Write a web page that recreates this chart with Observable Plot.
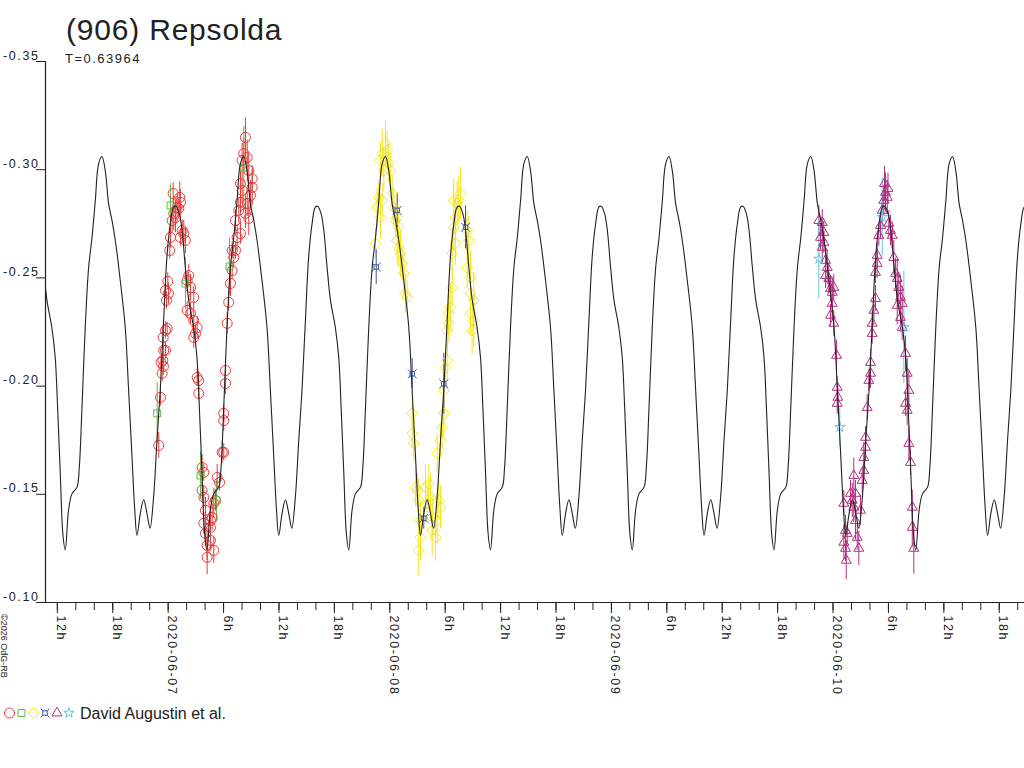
<!DOCTYPE html>
<html>
<head>
<meta charset="utf-8">
<script src="https://cdn.jsdelivr.net/npm/d3@7"></script>
<script src="https://cdn.jsdelivr.net/npm/@observablehq/plot@0.6"></script>
<style>
  html, body { margin: 0; padding: 0; background: #fff; }
  #wrap { position: relative; width: 1024px; height: 768px; overflow: hidden; font-family: "Liberation Sans", Arial, sans-serif; }
  #chart svg text { letter-spacing: 1.6px; }
  #overlay { position: absolute; left: 0; top: 0; pointer-events: none; }
</style>
</head>
<body>
<div id="wrap"><div id="chart"></div></div>
<script>
// ---------- texts ----------
const titleText = "(906) Repsolda";
const periodText = "T=0.63964";
const observerText = "David Augustin et al.";
const copyrightText = "©2026 OdG-RB";

// ---------- scales ----------
const xDomain = ["2020-06-06T10:43Z", "2020-06-10T20:44Z"];
const yTop = -0.35, yBottom = -0.10;
const yTicks = [-0.35, -0.30, -0.25, -0.20, -0.15, -0.10];
const refTime = "2020-06-07T00:00Z";   // data times are hours after this

// ---------- model lightcurve (one period) ----------
const periodDays = 0.63964;
const modelEpochHours = 34.91;         // sharp minimum (phase 0)
const modelPhase = [0, 0.023, 0.047, 0.083, 0.099, 0.118, 0.141, 0.165, 0.189, 0.212, 0.235, 0.259,
  0.282, 0.306, 0.330, 0.353, 0.388, 0.423, 0.447, 0.471, 0.489, 0.506, 0.529, 0.553, 0.577, 0.598,
  0.623, 0.647, 0.670, 0.693, 0.717, 0.741, 0.764, 0.781, 0.805, 0.824, 0.847, 0.871, 0.905, 0.929,
  0.946, 0.965, 0.983];
const modelMag = [-0.1243, -0.1425, -0.1502, -0.1533, -0.1625, -0.1902, -0.2272, -0.2549, -0.2688, -0.2858, -0.3027, -0.3061,
  -0.2996, -0.2842, -0.2765, -0.2673, -0.2488, -0.2272, -0.1980, -0.1671, -0.1440, -0.1310, -0.1410, -0.1475, -0.1410, -0.1343,
  -0.1486, -0.1749, -0.1980, -0.2288, -0.2596, -0.2750, -0.2827, -0.2831, -0.2796, -0.2719, -0.2549, -0.2396, -0.2272, -0.2134,
  -0.1902, -0.1595, -0.1318];

// ---------- observations (hours after refTime, magnitude, error) ----------
const redHours = [-1.02,-0.83,-0.65,-0.78,-0.51,-0.58,-0.48,-0.29,-0.54,-0.29,
  -0.11,-0.18,0.03,-0.29,-0.04,0.17,0.25,0.43,0.61,0.79,
  0.97,0.54,1.26,1.33,1.15,1.52,1.69,1.33,1.87,2.23,
  2.06,2.42,2.77,2.06,2.42,2.77,3.14,2.96,2.77,3.14,
  3.31,3.31,3.68,3.86,3.68,3.86,4.04,3.86,4.04,4.58,
  4.22,4.58,4.22,4.94,4.58,4.77,4.94,5.12,5.31,5.56,
  5.85,6.02,6.02,6.02,6.21,6.21,6.39,6.56,6.75,6.93,
  7.10,7.29,6.93,7.47,7.83,7.29,7.65,7.83,8.01,7.83,
  8.01,8.19,8.37,8.56,8.73,9.10,9.10,8.91,8.56,8.73,8.37];
const redMag = [-0.1726,-0.1948,-0.2059,-0.2109,-0.2091,-0.2119,-0.2165,-0.2165,-0.2225,-0.2257,
  -0.2266,-0.2396,-0.2428,-0.2442,-0.2484,-0.2627,-0.2687,-0.2765,-0.2798,-0.2779,
  -0.2826,-0.2890,-0.2872,-0.2849,-0.2821,-0.2719,-0.2705,-0.2687,-0.2673,-0.2511,
  -0.2488,-0.2456,-0.2410,-0.2350,-0.2336,-0.2303,-0.2271,-0.2243,-0.2225,-0.2040,
  -0.2026,-0.1966,-0.1624,-0.1601,-0.1518,-0.1486,-0.1426,-0.1366,-0.1319,-0.1347,
  -0.1264,-0.1287,-0.1209,-0.1241,-0.1379,-0.1393,-0.1458,-0.1472,-0.1578,-0.1555,
  -0.1694,-0.1694,-0.1841,-0.1874,-0.2012,-0.2072,-0.2290,-0.2387,-0.2474,-0.2534,
  -0.2594,-0.2627,-0.2627,-0.2687,-0.2705,-0.2765,-0.2812,-0.2849,-0.2904,-0.2936,
  -0.3043,-0.3075,-0.3149,-0.3056,-0.2996,-0.2959,-0.2918,-0.2881,-0.2844,-0.2775,-0.2798];
const redErr = [0.006,0.004,0.004,0.003,0.004,0.003,0.005,0.004,0.003,0.004,
  0.003,0.004,0.005,0.003,0.004,0.004,0.005,0.006,0.008,0.007,
  0.006,0.005,0.007,0.006,0.005,0.005,0.006,0.004,0.006,0.005,
  0.004,0.006,0.005,0.004,0.005,0.006,0.005,0.004,0.005,0.004,
  0.004,0.003,0.006,0.004,0.005,0.005,0.006,0.005,0.006,0.005,
  0.007,0.005,0.008,0.006,0.005,0.006,0.007,0.005,0.006,0.004,
  0.005,0.004,0.005,0.004,0.005,0.006,0.005,0.004,0.006,0.004,
  0.005,0.004,0.004,0.006,0.005,0.005,0.006,0.005,0.006,0.006,
  0.008,0.007,0.009,0.008,0.007,0.006,0.008,0.007,0.006,0.008,0.007];

const greenHours = [-1.19, 0.25, 1.87, 3.50, 5.23, 6.64, 8.19];
const greenMag = [-0.1874, -0.2835, -0.2474, -0.1587, -0.1472, -0.2553, -0.3010];
const greenErr = [0.014, 0.010, 0.012, 0.011, 0.010, 0.013, 0.019];

const yellowHours = [23.53,23.72,23.18,22.99,23.89,24.07,23.35,22.81,23.18,22.63,
  22.99,24.26,24.43,24.80,24.62,24.97,22.45,24.80,24.97,25.16,
  25.34,25.52,25.70,25.88,26.43,26.43,26.60,26.78,26.97,27.14,
  27.32,27.32,27.14,27.87,28.22,28.41,28.05,28.59,28.59,28.95,
  29.31,29.49,29.13,29.13,29.49,29.67,29.85,29.85,30.03,30.22,
  30.22,30.39,30.39,30.57,30.76,30.76,31.11,30.93,31.11,31.30,
  31.66,31.47,30.93,32.38,32.55,32.38,32.74,32.74,33.10,32.74,33.10,32.92];
const yellowMag = [-0.3121,-0.3089,-0.3075,-0.3043,-0.3029,-0.2996,-0.2996,-0.2872,-0.2858,-0.2825,
  -0.2779,-0.2890,-0.2825,-0.2779,-0.2765,-0.2733,-0.2659,-0.2673,-0.2641,-0.2613,
  -0.2567,-0.2521,-0.2428,-0.2410,-0.1874,-0.1781,-0.1735,-0.1532,-0.1518,-0.1472,
  -0.1379,-0.1301,-0.1241,-0.1532,-0.1550,-0.1486,-0.1458,-0.1393,-0.1333,-0.1301,
  -0.1472,-0.1440,-0.1379,-0.1689,-0.1749,-0.1809,-0.1874,-0.1980,-0.2086,-0.2119,
  -0.2257,-0.2290,-0.2336,-0.2363,-0.2456,-0.2613,-0.2659,-0.2733,-0.2779,-0.2844,
  -0.2890,-0.2858,-0.2858,-0.2719,-0.2673,-0.2548,-0.2502,-0.2428,-0.2396,-0.2336,-0.2303,-0.2257];
const yellowErr = [0.010,0.009,0.011,0.008,0.009,0.008,0.010,0.007,0.008,0.009,
  0.010,0.008,0.009,0.010,0.008,0.009,0.007,0.010,0.009,0.011,
  0.008,0.010,0.009,0.008,0.006,0.007,0.008,0.009,0.008,0.010,
  0.009,0.011,0.012,0.010,0.009,0.011,0.008,0.010,0.012,0.011,
  0.009,0.010,0.011,0.009,0.008,0.010,0.011,0.009,0.008,0.010,
  0.012,0.009,0.010,0.011,0.009,0.012,0.010,0.011,0.009,0.010,
  0.012,0.011,0.010,0.009,0.011,0.010,0.012,0.011,0.013,0.010,0.012,0.011];

const blueHours = [22.53, 24.80, 26.43, 27.68, 29.85, 32.20];
const blueMag = [-0.2550, -0.2812, -0.2057, -0.1389, -0.2011, -0.2734];
const blueErr = [0.008, 0.008, 0.007, 0.005, 0.014, 0.010];

const purpleHours = [70.46,70.83,71.00,70.64,71.00,70.83,71.19,71.37,71.19,71.54,
  71.73,71.91,72.08,71.91,71.73,72.08,72.38,72.45,72.52,72.45,
  73.17,73.35,73.54,73.17,73.35,73.43,73.89,74.08,74.25,74.43,
  74.62,74.79,74.97,74.25,74.43,75.16,75.33,75.33,75.52,75.52,
  75.70,75.88,76.06,76.06,76.24,76.24,76.42,76.60,76.60,76.78,
  76.78,76.96,77.14,77.33,77.50,77.68,77.87,78.04,78.22,78.41,
  78.58,78.77,78.95,79.12,79.31,79.49,78.95,79.31,79.49,79.85,
  80.03,80.21,79.85,80.03,80.21,80.39,80.58,80.58,80.75,77.57,77.95];
const purpleMag = [-0.2765,-0.2756,-0.2710,-0.2687,-0.2664,-0.2641,-0.2581,-0.2548,-0.2511,-0.2497,
  -0.2451,-0.2433,-0.2456,-0.2382,-0.2327,-0.2290,-0.2142,-0.1994,-0.1948,-0.1920,
  -0.1458,-0.1333,-0.1319,-0.1278,-0.1250,-0.1195,-0.1504,-0.1472,-0.1440,-0.1379,
  -0.1301,-0.1250,-0.1426,-0.1587,-0.1504,-0.1564,-0.1610,-0.1670,-0.1717,-0.1763,
  -0.1901,-0.2026,-0.2059,-0.2109,-0.2243,-0.2290,-0.2350,-0.2405,-0.2525,-0.2567,
  -0.2604,-0.2696,-0.2742,-0.2812,-0.2858,-0.2895,-0.2872,-0.2752,-0.2719,-0.2696,
  -0.2594,-0.2521,-0.2497,-0.2456,-0.2410,-0.2382,-0.2373,-0.2317,-0.2271,-0.2151,
  -0.2059,-0.1980,-0.1920,-0.1888,-0.1735,-0.1647,-0.1440,-0.1347,-0.1250,-0.2936,-0.2913];
const purpleErr = [0.007,0.006,0.005,0.006,0.005,0.007,0.006,0.008,0.006,0.007,
  0.006,0.007,0.006,0.008,0.005,0.006,0.007,0.005,0.006,0.005,
  0.006,0.007,0.005,0.008,0.006,0.009,0.006,0.008,0.007,0.009,
  0.006,0.008,0.007,0.008,0.006,0.006,0.005,0.007,0.006,0.005,
  0.006,0.005,0.007,0.006,0.005,0.006,0.007,0.006,0.005,0.007,
  0.006,0.005,0.006,0.008,0.007,0.009,0.008,0.006,0.007,0.006,
  0.008,0.007,0.009,0.007,0.010,0.008,0.009,0.007,0.006,0.008,
  0.007,0.009,0.006,0.007,0.008,0.006,0.008,0.009,0.012,0.008,0.007];

const cyanHours = [70.46, 72.73, 77.33, 79.67];
const cyanMag = [-0.2588, -0.1810, -0.2781, -0.2272];
const cyanErr = [0.0185, 0.009, 0.018, 0.026];

// ---------- styling ----------
const ink = "#222";
const colors = { red: "#ea3a3a", green: "#5cbc46", yellow: "#f2e41e", blue: "#3a52a6", purple: "#b22f7e", cyan: "#62c6dc" };

const symbolBoxX = {
  draw(ctx, size) {
    const r = Math.sqrt(size) * 0.5, s = r * 0.5;
    ctx.moveTo(-s, -s); ctx.lineTo(s, -s); ctx.lineTo(s, s); ctx.lineTo(-s, s); ctx.closePath();
    for (const [a, b] of [[-1, -1], [1, -1], [1, 1], [-1, 1]]) { ctx.moveTo(a * s, b * s); ctx.lineTo(a * r, b * r); }
  }
};

// ---------- build data ----------
const ref = Date.parse(refTime);
const toDate = h => new Date(ref + h * 3600e3);
function series(H, M, E) {
  const n = Math.min(H.length, M.length, E.length);
  return d3.range(n).map(i => ({date: toDate(H[i]), mag: M[i], lo: M[i] - E[i], hi: M[i] + E[i]}));
}
const groups = [
  {key: "red", data: series(redHours, redMag, redErr), symbol: "circle", r: 5},
  {key: "green", data: series(greenHours, greenMag, greenErr), symbol: "square", r: 3.9},
  {key: "yellow", data: series(yellowHours, yellowMag, yellowErr), symbol: "diamond2", r: 5},
  {key: "blue", data: series(blueHours, blueMag, blueErr), symbol: symbolBoxX, r: 5},
  {key: "purple", data: series(purpleHours, purpleMag, purpleErr), symbol: "triangle", r: 3.7},
  {key: "cyan", data: series(cyanHours, cyanMag, cyanErr), symbol: "star", r: 3.2}
];

// model curve: the read period shape repeated with the period T
const xStart = new Date(xDomain[0]), xEnd = new Date(xDomain[1]);
const periodHours = periodDays * 24;
const hStart = (xStart - ref) / 3600e3, hEnd = (xEnd - ref) / 3600e3;
const kMin = Math.floor((hStart - modelEpochHours) / periodHours) - 1;
const kMax = Math.ceil((hEnd - modelEpochHours) / periodHours) + 1;
const model = [];
for (let k = kMin; k <= kMax; k++) {
  modelPhase.forEach((p, i) => model.push({date: toDate(modelEpochHours + (k + p) * periodHours), mag: modelMag[i]}));
}

const majorTicks = d3.utcHour.every(6).range(xStart, xEnd);
const minorTicks = d3.utcHour.every(2).range(xStart, xEnd);
const majorFormat = d => d.getUTCHours() === 0 ? d3.utcFormat("%Y-%m-%d")(d) : `${d.getUTCHours()}h`;

const marks = [];
for (const g of groups) {
  marks.push(Plot.ruleX(g.data, {x: "date", y1: "lo", y2: "hi", stroke: colors[g.key], strokeWidth: 1, clip: true}));
}
for (const g of groups) {
  marks.push(Plot.dot(g.data, {x: "date", y: "mag", symbol: g.symbol, r: g.r, stroke: colors[g.key], fill: "none", strokeWidth: 1, clip: true}));
}
marks.push(Plot.line(model, {x: "date", y: "mag", stroke: ink, strokeWidth: 1.1, curve: "catmull-rom", clip: true}));
marks.push(Plot.ruleX([xStart], {stroke: ink, strokeWidth: 1.2}));
marks.push(Plot.ruleY([yBottom], {stroke: ink, strokeWidth: 1.2}));
// y axis: ticks, then labels sitting on the tick lines
marks.push(Plot.axisY({ticks: yTicks, tickSize: 9, tickFormat: () => "", label: null, stroke: ink}));
marks.push(Plot.axisY({ticks: yTicks, tickSize: 0, tickPadding: 6, tickFormat: d => d.toFixed(2), lineAnchor: "bottom", dy: -2, fontSize: 12.5, fill: ink, label: null}));
// x axis: minor ticks every 2h, major every 6h with rotated labels
marks.push(Plot.axisX({ticks: minorTicks, tickSize: 8, tickFormat: () => "", label: null, stroke: ink}));
marks.push(Plot.axisX({ticks: majorTicks, tickSize: 11, tickFormat: () => "", label: null, stroke: ink}));
marks.push(Plot.axisX({ticks: majorTicks, tickSize: 0, tickPadding: 13, tickRotate: 90, lineAnchor: "bottom", tickFormat: majorFormat, fontSize: 12.5, fill: ink, label: null}));

const chart = Plot.plot({
  width: 1024,
  height: 768,
  marginLeft: 45,
  marginRight: 0,
  marginTop: 61,
  marginBottom: 166,
  x: {type: "utc", domain: [xStart, xEnd], label: null},
  y: {domain: [yBottom, yTop], label: null},
  style: {fontFamily: "'Liberation Sans', Arial, sans-serif", fontSize: "12px", color: ink, background: "#fff", overflow: "visible"},
  marks
});
document.getElementById("chart").appendChild(chart);

// ---------- title, subtitle, legend, copyright ----------
const ov = d3.select("#wrap").append("svg").attr("id", "overlay").attr("width", 1024).attr("height", 768)
  .style("font-family", "'Liberation Sans', Arial, sans-serif");
ov.append("text").attr("x", 66).attr("y", 40).attr("font-size", 30).attr("letter-spacing", "0.8px").attr("fill", ink).text(titleText);
ov.append("text").attr("x", 65).attr("y", 63).attr("font-size", 13).attr("letter-spacing", "1.5px").attr("fill", ink).text(periodText);
ov.append("text").attr("transform", "translate(1,614) rotate(90)").attr("font-size", 9).attr("fill", ink).text(copyrightText);
const legendX = [9.5, 21.5, 33.5, 45, 57, 69];
const symMap = {circle: d3.symbolCircle, square: d3.symbolSquare, diamond2: d3.symbolDiamond2, triangle: d3.symbolTriangle, star: d3.symbolStar};
groups.forEach((g, i) => {
  const sym = typeof g.symbol === "string" ? symMap[g.symbol] : g.symbol;
  ov.append("path").attr("transform", `translate(${legendX[i]},713)`)
    .attr("d", d3.symbol(sym, Math.PI * g.r * g.r)())
    .attr("fill", "none").attr("stroke", colors[g.key]).attr("stroke-width", 1);
});
ov.append("text").attr("x", 80).attr("y", 719).attr("font-size", 16).attr("fill", ink).text(observerText);
</script>
</body>
</html>
